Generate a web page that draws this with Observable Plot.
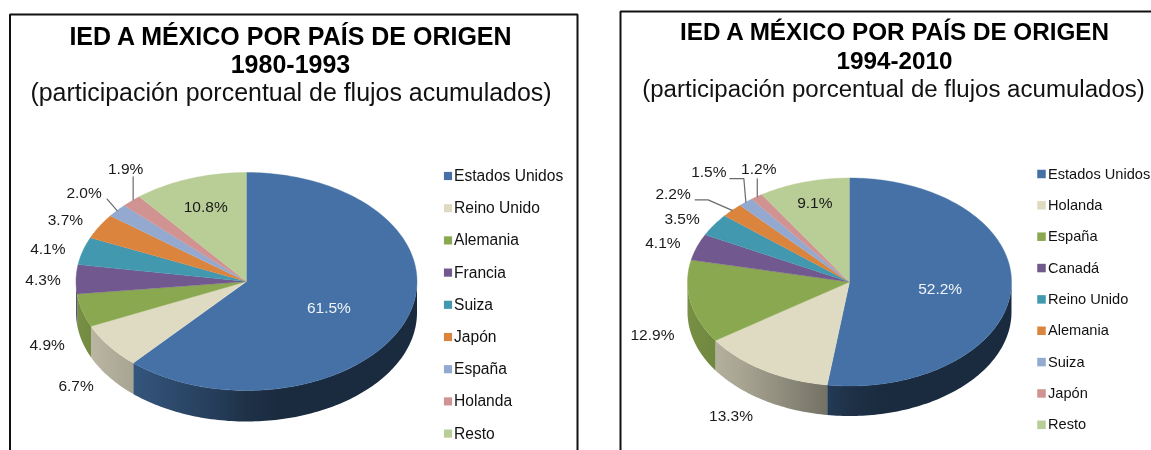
<!DOCTYPE html>
<html lang="es">
<head>
<meta charset="utf-8">
<title>IED a México por país de origen</title>
<script src="https://cdn.jsdelivr.net/npm/d3@7"></script>
<script src="https://cdn.jsdelivr.net/npm/@observablehq/plot@0.6"></script>
<style>
html,body{margin:0;padding:0;background:#fff;overflow:hidden}
svg{display:block;filter:blur(0.35px)}
</style>
</head>
<body>
<div id="chart"></div>
<script>
// ---- data ----
const paises1980 = ["Estados Unidos","Reino Unido","Alemania","Francia","Suiza","Japón","España","Holanda","Resto"];
const valores1980 = [61.5,6.7,4.9,4.3,4.1,3.7,2.0,1.9,10.8];
const paises1994 = ["Estados Unidos","Holanda","España","Canadá","Reino Unido","Alemania","Suiza","Japón","Resto"];
const valores1994 = [52.2,13.3,12.9,4.1,3.5,2.2,1.5,1.2,9.1];
const sliceColors = ["#4571a6","#dfdbc3","#8aa84f","#71588f","#4198af","#db843d","#93a9cf","#d19392","#b9cd96"];
const titulo = "IED A MÉXICO POR PAÍS DE ORIGEN";
const subtitulo = "(participación porcentual de flujos acumulados)";

// ---- layout (label offsets measured from each slice's rim midpoint) ----
const panel1980 = {
  id:"a", paises:paises1980, valores:valores1980, periodo:"1980-1993",
  cx:246, cy:281, rx:170.5, ry:109, depth:31,
  frame:[[9.5,450],[9.5,14],[577,14],[577,450]],
  titleX:290, titleY:[36,64.5,93], titleSize:25, subX:290.5, subSize:24.95,
  legendDot:447.5, legendText:453.5, legendY:175.5, legendStep:32.2, legendSize:15.6, dotR:4.6,
  labelOffset:[[-77,-12.6],[-33,40],[-35,34.5],[-33,1],[-35,-2],[-34,-6.5],[-33,-17.5],[-6,-32],[16,28]],
  leaders:{6:[[-10,-11.5],[0,0]],7:[[1.5,-24],[1.5,-1]]}
};
const panel1994 = {
  id:"b", paises:paises1994, valores:valores1994, periodo:"1994-2010",
  cx:849, cy:281.5, rx:162, ry:104, depth:30,
  frame:[[620,450],[620,11],[1151,11]],
  titleX:894, titleY:[32,60.5,88.5], titleSize:24.25, subX:893, subSize:24.05,
  legendDot:1041, legendText:1047.5, legendY:173.5, legendStep:31.35, legendSize:14.6, dotR:4.8,
  labelOffset:[[-71,0],[-33,46],[-38,33],[-34,-4],[-32,-6],[-59,-16],[-37,-30],[2,-28],[11,21]],
  leaders:{5:[[-37,-10.5],[-24,-10.5],[0,0]],6:[[-16,-23.5],[-2,-23.5],[0,0]],7:[[0.5,-18],[0.5,0]]}
};

// lightness of the pie's side wall across its width (-1 left, +1 right)
const wallShade = [[-1,.86],[-.66,.75],[-.14,.52],[0,.43],[.2,.38],[1,.38]];
const font = "Liberation Sans, Arial, sans-serif";
const TAU = 2*Math.PI;

function panelMarks(p){
  const total = d3.sum(p.valores);
  let acc = 0;
  const slices = p.valores.map((v,i)=>{
    const a = acc/total*TAU; acc += v; const b = acc/total*TAU;
    return {i,v,a,b,mid:(a+b)/2,color:sliceColors[i],name:p.paises[i]};
  });
  const pt = (t,dz=0)=>({x:p.cx+p.rx*Math.sin(t), y:p.cy-p.ry*Math.cos(t)+dz});
  const arc = (a,b,dz=0)=>{
    const n = Math.max(2,Math.ceil((b-a)/0.02));
    return d3.range(n+1).map(k=>pt(a+(b-a)*k/n,dz));
  };
  const marks = [];

  // gradients for the side wall
  marks.push((index,{x})=>{
    const NS="http://www.w3.org/2000/svg";
    const defs=document.createElementNS(NS,"defs");
    slices.forEach(s=>{
      const g=document.createElementNS(NS,"linearGradient");
      g.setAttribute("id",`wall-${p.id}-${s.i}`);
      g.setAttribute("gradientUnits","userSpaceOnUse");
      g.setAttribute("x1",x(p.cx-p.rx)); g.setAttribute("x2",x(p.cx+p.rx));
      g.setAttribute("y1",0); g.setAttribute("y2",0);
      wallShade.forEach(([u,f])=>{
        const st=document.createElementNS(NS,"stop");
        const c=d3.rgb(s.color);
        st.setAttribute("offset",(u+1)/2);
        st.setAttribute("stop-color",d3.rgb(c.r*f,c.g*f,c.b*f).formatHex());
        g.appendChild(st);
      });
      defs.appendChild(g);
    });
    return defs;
  });

  // frame
  marks.push(Plot.line(p.frame.map(([x,y])=>({x,y})),{x:"x",y:"y",stroke:"#111",strokeWidth:2,strokeLinejoin:"miter",strokeLinecap:"butt"}));

  // side walls
  slices.forEach(s=>{
    const a=Math.max(s.a,TAU/4), b=Math.min(s.b,3*TAU/4);
    if(b<=a) return;
    const ring=[...arc(a,b),...arc(a,b,p.depth).reverse()];
    marks.push(Plot.line(ring,{x:"x",y:"y",fill:`url(#wall-${p.id}-${s.i})`,stroke:"none"}));
  });
  // top faces
  slices.forEach(s=>{
    const ring=[{x:p.cx,y:p.cy},...arc(s.a,s.b)];
    marks.push(Plot.line(ring,{x:"x",y:"y",fill:s.color,stroke:s.color,strokeWidth:0.4}));
  });

  // leaders
  Object.entries(p.leaders).forEach(([i,off])=>{
    const rim=pt(slices[+i].mid);
    marks.push(Plot.line(off.map(([dx,dy])=>({x:rim.x+dx,y:rim.y+dy})),{x:"x",y:"y",stroke:"#6b6b6b",strokeWidth:1.2}));
  });

  // value labels
  const labels=slices.map(s=>{
    const r=pt(s.mid), [dx,dy]=p.labelOffset[s.i];
    return {x:r.x+dx,y:r.y+dy,t:s.v.toFixed(1)+"%",c:s.i===0?"#f0f4f8":"#1a1a1a"};
  });
  marks.push(Plot.text(labels,{x:"x",y:"y",text:"t",fill:"c",fontSize:15.5,fontFamily:font}));

  // title block
  marks.push(Plot.text([titulo,p.periodo],{x:()=>p.titleX,y:(d,i)=>p.titleY[i],text:d=>d,fontSize:p.titleSize,fontWeight:"bold",fontFamily:font,fill:"#000"}));
  marks.push(Plot.text([subtitulo],{x:()=>p.subX,y:()=>p.titleY[2],text:d=>d,fontSize:p.subSize,fontFamily:font,fill:"#111"}));

  // legend
  const leg=slices.map(s=>({name:s.name,color:s.color,y:p.legendY+s.i*p.legendStep}));
  marks.push(Plot.dot(leg,{x:()=>p.legendDot,y:"y",symbol:"square",r:p.dotR,fill:"color",stroke:"none"}));
  marks.push(Plot.text(leg,{x:()=>p.legendText,y:"y",text:"name",textAnchor:"start",fontSize:p.legendSize,fontFamily:font,fill:"#111"}));
  return marks;
}

const chart = Plot.plot({
  width:1151, height:450, margin:0,
  x:{domain:[0,1151],range:[0,1151],axis:null},
  y:{domain:[0,450],range:[0,450],axis:null},
  color:{type:"identity"},
  style:{background:"#fff"},
  marks:[...panelMarks(panel1980),...panelMarks(panel1994)]
});
document.getElementById("chart").appendChild(chart);
</script>
</body>
</html>
